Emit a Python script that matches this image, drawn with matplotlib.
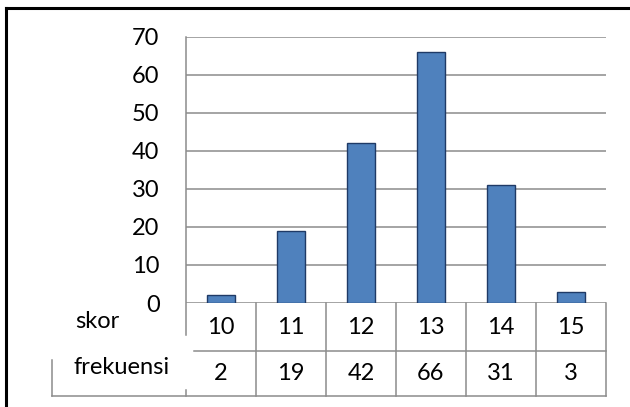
import matplotlib.pyplot as plt
from matplotlib.lines import Line2D

# score categories and their frequencies
skor = ['10', '11', '12', '13', '14', '15']
frekuensi = [2, 19, 42, 66, 31, 3]
yticks = [0, 10, 20, 30, 40, 50, 60, 70]

plt.rcParams['font.family'] = ['Lato', 'DejaVu Sans']
FS = 17

W, H = 630, 407
fig = plt.figure(figsize=(W / 100, H / 100), dpi=100)

# plot area in pixels: x 186..606, y 37..303
L, R, T, B = 186, 606, 36.7, 303
ax = fig.add_axes([L / W, 1 - B / H, (R - L) / W, (B - T) / H])

GRID = '#8c8c8c'
x = list(range(len(skor)))
ax.bar(x, frekuensi, width=0.41, color='#4f81bd', edgecolor='#1f3a66', linewidth=1.0, zorder=3)

ax.set_xlim(-0.5, len(skor) - 0.5)
ax.set_ylim(0, 70)
ax.set_yticks(yticks)
ax.set_yticklabels([str(v) for v in yticks], fontsize=FS)
ax.tick_params(axis='y', length=0, pad=19)
ax.set_xticks([])
ax.yaxis.grid(True, color=GRID, linewidth=1.1)
ax.set_axisbelow(True)
for s in ['top', 'right', 'bottom', 'left']:
    ax.spines[s].set_visible(False)

# helpers: pixel -> data units
ppu = (B - T) / 70.0
colw = (R - L) / len(skor)
def dy(py):
    return -(py - B) / ppu
def dx(px):
    return -0.5 + (px - L) / colw

def line(xs, ys, **kw):
    ax.add_line(Line2D(xs, ys, color=GRID, linewidth=1.1, clip_on=False, **kw))

# data table below the axis
row1, row2 = 351, 396
line([-0.5, -0.5], [70, dy(335)])
line([-0.5, -0.5], [dy(390), dy(row2)])
for i in range(1, len(skor) + 1):
    line([i - 0.5, i - 0.5], [0, dy(row2)])
line([dx(194), len(skor) - 0.5], [dy(row1), dy(row1)])
line([dx(52), len(skor) - 0.5], [dy(row2), dy(row2)])
line([dx(52), dx(52)], [dy(360), dy(row2)])

for i, (s, f) in enumerate(zip(skor, frekuensi)):
    ax.text(i, dy(327), s, ha='center', va='center', fontsize=FS, clip_on=False)
    ax.text(i, dy(373), str(f), ha='center', va='center', fontsize=FS, clip_on=False)
ax.text(dx(97), dy(322), 'skor', ha='center', va='center', fontsize=FS)
ax.text(dx(122), dy(368), 'frekuensi', ha='center', va='center', fontsize=FS)

# outer frame (left and top edges)
fig.add_artist(Line2D([6 / W, 6 / W], [0, 1 - 8 / H], color='black', linewidth=2.2))
fig.add_artist(Line2D([6 / W, 1], [1 - 8 / H, 1 - 8 / H], color='black', linewidth=2.2))

fig.savefig('out.png', dpi=100)
